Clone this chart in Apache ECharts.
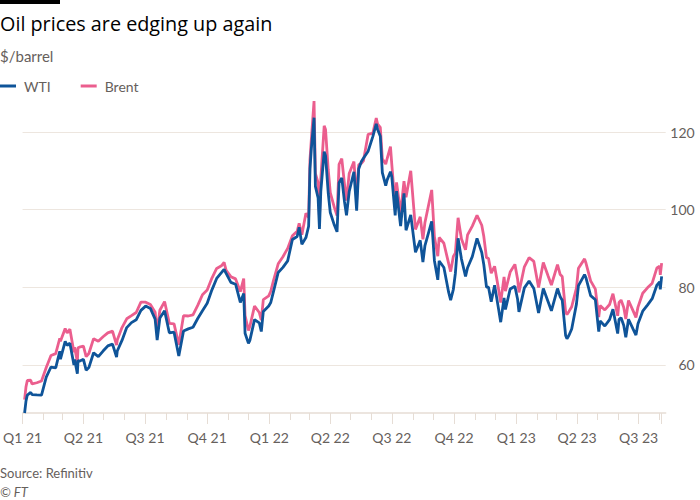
<!DOCTYPE html>
<html><head><meta charset="utf-8">
<script src="https://cdn.jsdelivr.net/npm/echarts@6/dist/echarts.min.js"></script>
<style>html,body{margin:0;padding:0;background:#fff}#c{width:700px;height:500px}</style>
</head><body><div id="c"></div><script>
// ---- Data ----
const dates2021 = ['2021-01-04','2021-01-06','2021-01-08','2021-01-13','2021-01-15','2021-01-22','2021-01-29','2021-02-05','2021-02-12','2021-02-19','2021-02-25','2021-02-26','2021-03-05','2021-03-08','2021-03-12','2021-03-18','2021-03-19','2021-03-23','2021-03-24','2021-03-26','2021-04-01','2021-04-05','2021-04-09','2021-04-16','2021-04-23','2021-04-30','2021-05-07','2021-05-14','2021-05-20','2021-05-21','2021-05-28','2021-06-04','2021-06-11','2021-06-18','2021-06-25','2021-07-02','2021-07-09','2021-07-16','2021-07-19','2021-07-23','2021-07-30','2021-08-06','2021-08-13','2021-08-20','2021-08-27','2021-09-03','2021-09-10','2021-09-17','2021-09-24','2021-10-01','2021-10-08','2021-10-15','2021-10-22','2021-10-26','2021-10-29','2021-11-05','2021-11-12','2021-11-19','2021-11-24','2021-11-26','2021-12-01','2021-12-03','2021-12-10','2021-12-17','2021-12-20','2021-12-23','2021-12-31'];
const wti2021 = [47.62,50.63,52.24,52.91,52.36,52.27,52.20,56.85,59.47,59.24,63.53,61.50,66.09,65.05,65.61,60.00,61.42,57.76,61.18,60.97,61.45,58.65,59.32,63.13,62.14,63.58,64.90,65.37,62.05,63.58,66.32,69.62,70.91,71.64,74.05,75.16,74.56,71.81,66.42,72.07,73.95,68.28,68.44,62.32,68.74,69.29,69.72,71.97,73.98,75.88,79.35,82.28,83.76,84.65,83.57,81.27,80.79,76.10,78.39,68.15,65.57,66.26,71.67,70.86,68.61,73.79,75.21];
const brent2021 = [51.09,54.30,55.99,56.06,55.10,55.41,55.88,59.34,62.43,62.91,66.88,66.13,69.36,68.24,69.22,63.28,64.53,60.79,64.41,64.57,64.86,62.15,62.95,66.77,66.11,67.25,68.28,68.71,65.11,66.44,69.63,71.89,72.69,73.51,76.18,76.17,75.55,73.59,68.62,74.10,76.33,70.70,70.59,65.18,72.70,72.61,72.92,75.34,78.09,79.28,82.39,84.86,85.53,86.40,84.38,82.74,82.17,78.89,82.25,72.72,68.87,69.88,75.15,73.52,71.52,76.85,77.78];

const dates2022 = ['2022-01-03','2022-01-07','2022-01-14','2022-01-21','2022-01-28','2022-02-04','2022-02-11','2022-02-14','2022-02-18','2022-02-24','2022-02-28','2022-03-02','2022-03-04','2022-03-08','2022-03-10','2022-03-14','2022-03-16','2022-03-18','2022-03-23','2022-03-25','2022-03-29','2022-04-01','2022-04-07','2022-04-11','2022-04-14','2022-04-18','2022-04-22','2022-04-25','2022-04-29','2022-05-06','2022-05-10','2022-05-13','2022-05-17','2022-05-20','2022-05-27','2022-06-03','2022-06-08','2022-06-10','2022-06-14','2022-06-17','2022-06-22','2022-06-24','2022-06-29','2022-07-01','2022-07-06','2022-07-08','2022-07-14','2022-07-19','2022-07-22','2022-07-29','2022-08-05','2022-08-12','2022-08-16','2022-08-19','2022-08-29','2022-09-02','2022-09-07','2022-09-09','2022-09-16','2022-09-23','2022-09-26','2022-09-30','2022-10-03','2022-10-07','2022-10-12','2022-10-18','2022-10-21','2022-10-28','2022-11-04','2022-11-11','2022-11-14','2022-11-18','2022-11-21','2022-11-25','2022-11-30','2022-12-06','2022-12-09','2022-12-14','2022-12-16','2022-12-23','2022-12-30'];
const wti2022 = [76.08,78.90,83.82,85.14,86.82,92.31,93.10,95.46,91.07,92.81,95.72,110.60,115.68,123.70,106.02,103.01,95.04,104.70,114.93,113.90,104.24,99.27,96.03,94.29,106.95,108.21,102.07,98.54,104.69,109.77,99.76,110.49,112.40,113.23,115.07,118.87,122.11,120.67,118.93,109.56,106.19,107.62,109.78,108.43,98.53,104.79,95.78,104.22,94.70,98.62,89.01,92.09,86.53,90.77,97.01,86.87,81.94,86.79,85.11,78.74,76.71,79.49,83.63,92.64,87.27,82.82,85.05,87.90,92.61,88.96,85.87,80.08,80.04,76.28,80.55,74.25,71.02,77.28,74.29,79.56,80.26];
const brent2022 = [78.98,81.75,86.06,87.89,90.03,93.27,94.44,96.48,93.54,99.08,97.97,112.93,118.11,127.98,109.33,106.90,98.02,107.93,121.60,120.65,110.23,104.39,100.58,98.48,111.70,113.16,106.65,102.32,109.34,112.39,102.46,111.55,111.93,112.55,119.43,119.72,123.58,122.01,121.17,113.12,111.74,113.12,116.26,111.63,100.69,107.02,99.10,107.35,103.20,110.01,94.92,98.15,92.34,96.72,105.09,93.02,88.00,92.84,91.35,86.15,84.06,87.96,88.86,97.92,92.45,89.68,93.50,95.77,98.57,95.99,93.14,87.62,87.45,83.63,85.43,79.35,76.10,82.70,79.04,83.92,85.91];

const dates2023 = ['2023-01-03','2023-01-05','2023-01-13','2023-01-20','2023-01-27','2023-02-03','2023-02-10','2023-02-17','2023-02-22','2023-03-03','2023-03-07','2023-03-10','2023-03-15','2023-03-17','2023-03-20','2023-03-24','2023-03-31','2023-04-03','2023-04-12','2023-04-14','2023-04-21','2023-04-28','2023-05-03','2023-05-05','2023-05-12','2023-05-19','2023-05-24','2023-05-31','2023-06-02','2023-06-05','2023-06-09','2023-06-12','2023-06-16','2023-06-23','2023-06-27','2023-06-30','2023-07-07','2023-07-14','2023-07-21','2023-07-28','2023-08-01','2023-08-02','2023-08-04'];
const wti2023 = [76.93,73.67,79.86,81.64,79.68,73.39,79.72,76.34,73.95,79.68,77.58,76.68,67.61,66.74,67.64,69.26,75.67,80.42,83.26,82.52,77.87,76.78,68.60,71.34,70.04,71.69,74.34,68.09,71.74,72.15,70.17,67.12,71.78,69.16,67.70,70.64,73.86,75.42,77.07,80.58,81.37,79.49,82.82];
const brent2023 = [82.10,78.69,85.28,87.63,86.66,79.94,86.39,83.00,80.60,85.83,83.29,82.78,73.69,72.97,73.79,74.99,79.77,84.93,87.33,86.31,81.66,79.54,72.33,75.30,74.17,75.58,78.36,72.66,76.13,76.71,74.79,71.84,76.61,73.85,72.26,74.90,78.47,79.87,81.07,84.99,85.43,83.20,86.24];

const yTickValues = [60, 80, 100, 120];
const quarterStarts = ['2021-01-01','2021-04-01','2021-07-01','2021-10-01','2022-01-01','2022-04-01','2022-07-01','2022-10-01','2023-01-01','2023-04-01','2023-07-01'];
const quarterLabels = ['Q1 21','Q2 21','Q3 21','Q4 21','Q1 22','Q2 22','Q3 22','Q4 22','Q1 23','Q2 23','Q3 23'];

// ---- Build ----
const dates = dates2021.concat(dates2022, dates2023);
const wti = wti2021.concat(wti2022, wti2023);
const brent = brent2021.concat(brent2022, brent2023);

function ts(s) { const p = s.split('-').map(Number); return new Date(p[0], p[1] - 1, p[2]).getTime(); }
const xMin = ts('2021-01-01');
const xMax = ts('2023-08-10');
const lastDate = ts(dates[dates.length - 1]);
const monthTicks = [];
for (let y = 2021; y <= 2023; y++) for (let m = 0; m < 12; m++) {
  const t = new Date(y, m, 1).getTime();
  if (t >= xMin && t <= xMax) monthTicks.push(t);
}
const quarterTicks = quarterStarts.map(ts);

const FONT = 'Lato, "Noto Sans", sans-serif';
const TFONT = '"Open Sans", "Noto Sans", sans-serif';
const GREY = '#66605c';
const LINE = '#e6ddd5';

const chart = echarts.init(document.getElementById('c'), null, { renderer: 'svg' });
chart.setOption({
  backgroundColor: '#ffffff',
  animation: false,
  textStyle: { fontFamily: FONT },
  graphic: [{ type: 'rect', left: 0, top: 0, shape: { width: 60, height: 4 }, style: { fill: '#000' } }],
  title: [
    { text: 'Oil prices are edging up again', left: 0, top: 13, padding: 0,
      textStyle: { fontFamily: TFONT, fontSize: 19.8, fontWeight: 'normal', color: '#000' } },
    { text: '$/barrel', left: 0, top: 48, padding: 0,
      textStyle: { fontFamily: FONT, fontSize: 15, fontWeight: 'normal', color: GREY } },
    { text: 'Source: Refinitiv', left: 0, top: 466, padding: 0,
      textStyle: { fontFamily: FONT, fontSize: 13, fontWeight: 'normal', color: GREY } },
    { text: '© FT', left: 0, top: 485, padding: 0,
      textStyle: { fontFamily: FONT, fontSize: 13, fontWeight: 'normal', fontStyle: 'italic', color: GREY } }
  ],
  legend: {
    left: 0, top: 79, padding: 0, itemWidth: 16, itemHeight: 3, itemGap: 30, icon: 'rect',
    data: ['WTI', 'Brent'],
    textStyle: { fontFamily: FONT, fontSize: 14, color: GREY, padding: [0, 0, 0, 3] }
  },
  grid: { left: 20, right: 34.3, top: 101, bottom: 87, containLabel: false },
  xAxis: [
    { type: 'value', min: xMin, max: xMax,
      axisLine: { show: true, lineStyle: { color: LINE, width: 1.5 } },
      axisTick: { show: true, length: 7, customValues: monthTicks, lineStyle: { color: LINE, width: 1 } },
      axisLabel: { show: false }, splitLine: { show: false } },
    { type: 'value', min: xMin, max: xMax, position: 'bottom',
      axisLine: { show: false },
      axisTick: { show: true, length: 11, customValues: quarterTicks.concat([lastDate]), lineStyle: { color: LINE, width: 1 } },
      axisLabel: { show: true, customValues: quarterTicks, margin: 17, fontSize: 14, color: GREY, fontFamily: FONT,
        formatter: function (v) { const i = quarterTicks.indexOf(v); return i >= 0 ? quarterLabels[i] : ''; } },
      splitLine: { show: false } }
  ],
  yAxis: {
    type: 'value', position: 'right', min: 47.62, max: 128,
    axisLine: { show: false },
    axisTick: { show: false, customValues: yTickValues },
    axisLabel: { show: true, customValues: yTickValues, align: 'right', margin: 29, fontSize: 14, color: GREY, fontFamily: FONT },
    splitLine: { show: true, lineStyle: { color: '#ede6df', width: 1 } }
  },
  series: [
    { name: 'Brent', type: 'line', xAxisIndex: 0, showSymbol: false, symbol: 'none',
      lineStyle: { color: '#eb5e8e', width: 2.8 }, itemStyle: { color: '#eb5e8e' },
      data: dates.map((d, i) => [ts(d), brent[i]]) },
    { name: 'WTI', type: 'line', xAxisIndex: 0, showSymbol: false, symbol: 'none',
      lineStyle: { color: '#0f5499', width: 2.8 }, itemStyle: { color: '#0f5499' },
      data: dates.map((d, i) => [ts(d), wti[i]]) }
  ]
});
</script></body></html>
